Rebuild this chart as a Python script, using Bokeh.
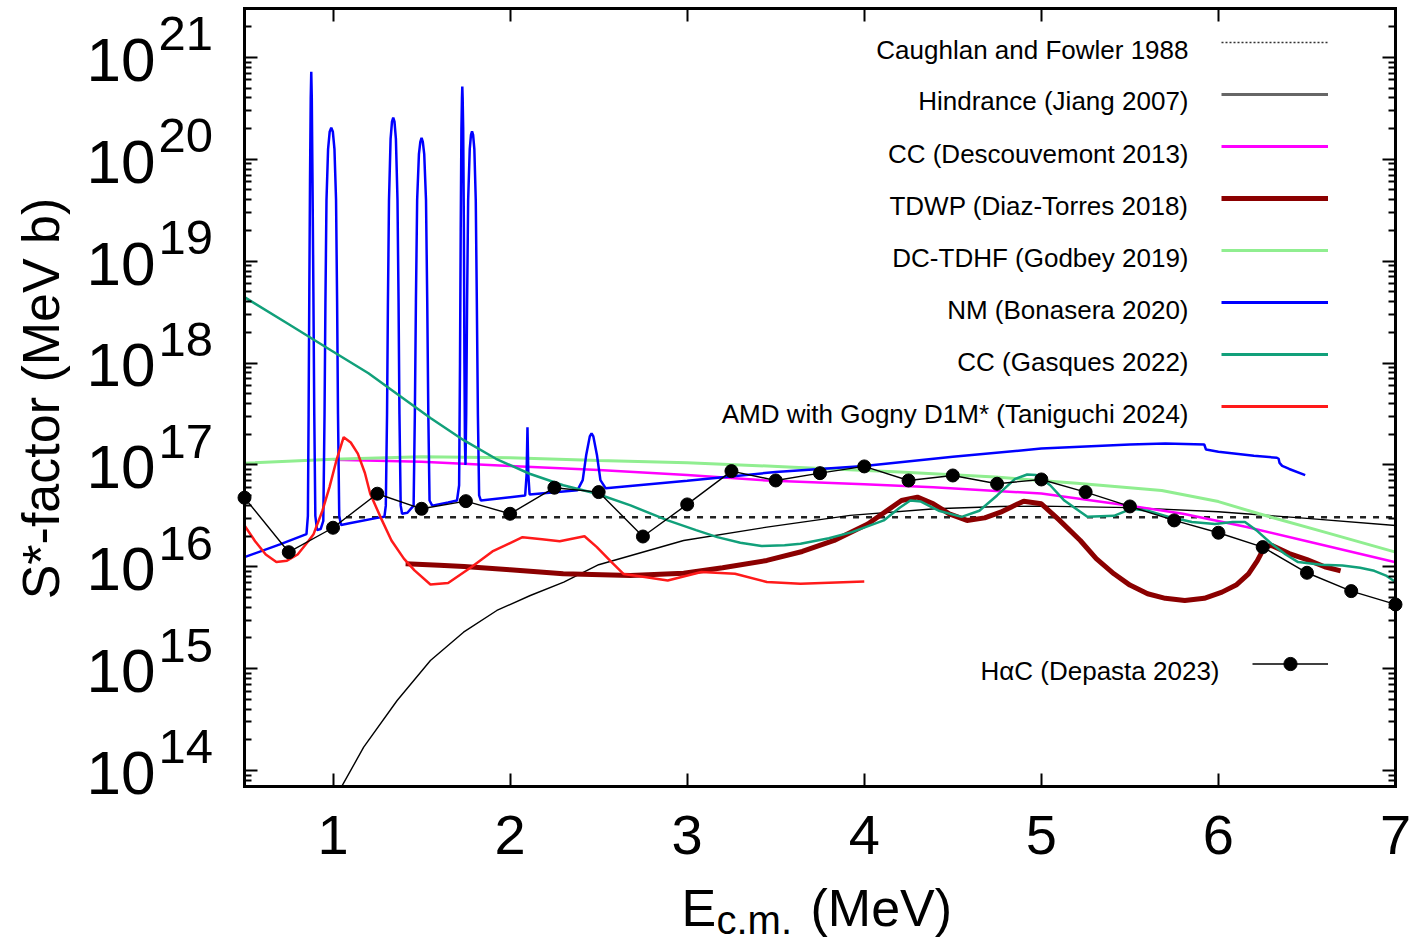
import math
from bokeh.plotting import figure
from bokeh.models import (Range1d, FixedTicker, LinearAxis, LogAxis, Label, Legend,
                          LegendItem, CustomJSTickFormatter)
from bokeh.embed import file_html
from bokeh.resources import INLINE
from bokeh.core.properties import value

# ---------------- data (y given as log10) -------------
cf_x = [1.0, 7.0]
cf_log = [16.487, 16.487]

hind_x = [1.05, 1.173, 1.362, 1.55, 1.737, 1.925, 2.114, 2.303, 2.50, 2.98, 3.45, 3.92,
          4.40, 4.77, 5.0, 5.5, 6.0, 6.5, 7.0]
hind_log = [13.846, 14.229, 14.687, 15.08, 15.358, 15.571, 15.718, 15.849, 16.02, 16.258,
            16.389, 16.504, 16.569, 16.592, 16.595, 16.58, 16.54, 16.475, 16.405]

desc_x = [1.0, 1.5, 2.0, 2.5, 3.0, 3.45, 4.0, 4.39, 4.77, 5.0, 5.5, 5.8, 6.16, 6.5, 7.0]
desc_log = [17.05, 17.03, 16.99, 16.95, 16.9, 16.847, 16.81, 16.78, 16.742, 16.72, 16.6,
            16.52, 16.39, 16.25, 16.045]

tdwp_x = [1.41, 1.6, 1.74, 2.0, 2.30, 2.68, 2.98, 3.2, 3.45, 3.65, 3.83, 4.02, 4.21, 4.30,
          4.39, 4.48, 4.58, 4.68, 4.77, 4.90, 5.0, 5.1, 5.22, 5.31, 5.41, 5.50, 5.60, 5.70,
          5.81, 5.92, 6.02, 6.10, 6.17, 6.22, 6.26, 6.30, 6.40, 6.50, 6.60, 6.69]
tdwp_log = [16.03, 16.015, 16.003, 15.97, 15.931, 15.915, 15.937, 15.99, 16.062, 16.15,
            16.258, 16.42, 16.65, 16.684, 16.618, 16.52, 16.455, 16.48, 16.536, 16.644,
            16.618, 16.46, 16.258, 16.08, 15.931, 15.82, 15.735, 15.69, 15.669, 15.69,
            15.751, 15.82, 15.931, 16.06, 16.193, 16.21, 16.13, 16.07, 16.0, 15.96]

dctdhf_x = [0.5, 1.0, 1.5, 2.0, 2.5, 3.0, 3.6, 4.2, 4.74, 5.2, 5.68, 6.0, 6.23, 6.6, 7.0]
dctdhf_log = [17.017, 17.055, 17.08, 17.07, 17.044, 17.02, 16.978, 16.93, 16.88, 16.82,
              16.749, 16.64, 16.52, 16.34, 16.144]

nm_x = [0.5, 0.7, 0.85,
        0.858, 0.862, 0.866, 0.870, 0.874, 0.877, 0.880, 0.884, 0.889, 0.894, 0.90, 0.91,
        0.93, 0.945, 0.952, 0.957, 0.963, 0.972, 0.981, 0.99, 0.999, 1.008, 1.017, 1.023,
        1.028, 1.035, 1.045, 1.1, 1.25, 1.29,
        1.298, 1.305, 1.310, 1.316, 1.325, 1.333, 1.34, 1.347, 1.355, 1.364, 1.370, 1.375,
        1.382, 1.39,
        1.42, 1.455, 1.462, 1.468, 1.475, 1.485, 1.493, 1.50, 1.507, 1.515, 1.525, 1.532,
        1.538, 1.545, 1.56, 1.65, 1.70,
        1.712, 1.717, 1.721, 1.725, 1.728, 1.73, 1.732, 1.735, 1.739, 1.742, 1.745, 1.748,
        1.752, 1.757, 1.763, 1.772, 1.779, 1.785, 1.791, 1.798, 1.806, 1.812, 1.818, 1.825,
        1.835,
        2.085, 2.093, 2.098, 2.103, 2.11,
        2.38, 2.41, 2.43, 2.45, 2.46, 2.47, 2.49, 2.51, 2.54,
        3.0, 3.5, 4.0, 4.5, 5.0, 5.5, 5.7, 5.92, 5.93, 6.0, 6.2, 6.33, 6.34, 6.345,
        6.36, 6.40, 6.49]
nm_log = [16.094, 16.22, 16.32,
          16.5, 17.5, 18.7, 19.8, 20.6, 20.86, 20.6, 19.8, 18.7, 17.5, 16.5, 16.36,
          16.37, 16.45, 17.5, 18.6, 19.6, 20.1, 20.27, 20.31, 20.27, 20.1, 19.6, 18.6,
          17.5, 16.5, 16.41, 16.43, 16.48, 16.49,
          16.6, 17.5, 18.6, 19.6, 20.2, 20.37, 20.41, 20.37, 20.2, 19.6, 18.6, 17.5,
          16.6, 16.52,
          16.53, 16.6, 17.5, 18.6, 19.6, 20.05, 20.17, 20.21, 20.17, 20.05, 19.6, 18.6,
          17.5, 16.65, 16.6, 16.63, 16.65,
          16.8, 18.0, 19.3, 20.3, 20.6, 20.715, 20.6, 20.3, 19.3, 18.0, 17.2, 17.0,
          17.5, 18.6, 19.6, 20.1, 20.24, 20.273, 20.24, 20.1, 19.6, 18.6, 17.5, 16.7,
          16.65,
          16.70, 16.9, 17.37, 16.9, 16.71,
          16.75, 16.85, 17.1, 17.28, 17.31, 17.28, 17.1, 16.85, 16.77,
          16.845, 16.93, 16.99, 17.08, 17.16, 17.2, 17.21, 17.20, 17.15, 17.13, 17.09,
          17.07, 17.06, 17.02, 16.99, 16.96, 16.90]

gas_x = [0.5, 0.75, 0.99, 1.2, 1.36, 1.55, 1.74, 1.92, 2.11, 2.3, 2.49, 2.68, 2.89, 3.05,
         3.17, 3.3, 3.42, 3.55, 3.64, 3.8, 3.93, 4.11, 4.2, 4.26, 4.32, 4.42, 4.55, 4.65,
         4.75, 4.85, 4.92, 4.97, 5.05, 5.13, 5.26, 5.41, 5.51, 5.6, 5.72, 5.85, 5.98, 6.08,
         6.15, 6.22, 6.30, 6.38, 6.45, 6.58, 6.70, 6.80, 6.88, 6.95, 7.0]
gas_log = [18.647, 18.38, 18.123, 17.9, 17.698, 17.46, 17.24, 17.06, 16.913, 16.8, 16.717,
           16.602, 16.455, 16.36, 16.291, 16.235, 16.203, 16.21, 16.226, 16.28, 16.34,
           16.455, 16.58, 16.65, 16.64, 16.55, 16.49, 16.55, 16.7, 16.86, 16.906, 16.9,
           16.8, 16.65, 16.49, 16.5, 16.57, 16.55, 16.49, 16.44, 16.42, 16.44, 16.44,
           16.35, 16.226, 16.12, 16.046, 16.02, 16.013, 15.99, 15.96, 15.91, 15.85]

amd_x = [0.5, 0.56, 0.62, 0.68, 0.74, 0.80, 0.86, 0.89, 0.94, 0.98, 1.02, 1.06, 1.10, 1.14,
         1.18, 1.21, 1.27, 1.33, 1.40, 1.46, 1.55, 1.65, 1.78, 1.90, 2.07, 2.18, 2.28, 2.42,
         2.49, 2.57, 2.64, 2.76, 2.89, 3.08, 3.27, 3.45, 3.64, 4.0]
amd_log = [16.405, 16.25, 16.12, 16.046, 16.06, 16.12, 16.25, 16.32, 16.55, 16.782, 17.05,
           17.272, 17.22, 17.11, 16.92, 16.717, 16.48, 16.258, 16.08, 15.964, 15.826, 15.84,
           15.996, 16.15, 16.29, 16.27, 16.25, 16.30, 16.193, 16.05, 15.93, 15.90, 15.866,
           15.948, 15.931, 15.85, 15.833, 15.856]

dep_x = [0.5, 0.75, 1.0, 1.25, 1.5, 1.75, 2.0, 2.25, 2.5, 2.75, 3.0, 3.25, 3.5, 3.75, 4.0,
         4.25, 4.5, 4.75, 5.0, 5.25, 5.5, 5.75, 6.0, 6.25, 6.5, 6.75, 7.0]
dep_log = [16.678, 16.143, 16.383, 16.717, 16.569, 16.644, 16.52, 16.776, 16.733, 16.297,
           16.612, 16.939, 16.847, 16.919, 16.985, 16.847, 16.896, 16.815, 16.857, 16.733,
           16.592, 16.455, 16.334, 16.193, 15.941, 15.761, 15.63]

legend_labels = ["Caughlan and Fowler 1988", "Hindrance (Jiang 2007)",
                 "CC (Descouvemont 2013)", "TDWP (Diaz-Torres 2018)",
                 "DC-TDHF (Godbey 2019)", "NM (Bonasera 2020)", "CC (Gasques 2022)",
                 "AMD with Gogny D1M* (Taniguchi 2024)"]
dep_label = "H\u03b1C (Depasta 2023)"
x_ticks = [1, 2, 3, 4, 5, 6, 7]
y_exps = [14, 15, 16, 17, 18, 19, 20, 21]


def lin(v):
    return [10 ** t for t in v]


# ---------------- layout: plot box in page pixels and in data units -------------------
W, H = 1416, 946
PX0, PX1, PY0, PY1 = 244, 1395, 8, 786          # box edges on the page
X0, X1 = 0.5, 7.0                                # box x limits (data)
LY0, LY1 = 13.843, 21.48                         # box y limits (log10 data)
SX = (PX1 - PX0) / (X1 - X0)
SY = (PY1 - PY0) / (LY1 - LY0)
XS, XE = X0 - PX0 / SX, X1 + (W - PX1) / SX
YS, YE = LY0 - (H - PY1) / SY, LY1 + PY0 / SY
FONT = "Liberation Sans"
K = 0.38   # baseline correction of Label text (fraction of font size)

p = figure(width=W, height=H, y_axis_type="log", x_axis_location=None,
           y_axis_location=None, x_range=Range1d(XS, XE),
           y_range=Range1d(10 ** YS, 10 ** YE), min_border=0,
           output_backend="svg", toolbar_location=None)
p.grid.visible = False
p.outline_line_color = None
p.background_fill_color = "white"
p.border_fill_color = "white"

empty = CustomJSTickFormatter(code="return ''")
ymin = [k * 10 ** e for e in range(13, 22) for k in range(2, 10)
        if LY0 + 0.01 < math.log10(k * 10 ** e) < LY1 - 0.01]
yt = FixedTicker(ticks=[10 ** e for e in y_exps], minor_ticks=ymin)
xt = FixedTicker(ticks=x_ticks, minor_ticks=[])

bottom = LinearAxis(ticker=xt, fixed_location=10 ** LY0)
bottom.major_label_text_font = FONT
bottom.major_label_text_font_size = "56px"
bottom.major_label_text_color = "black"
bottom.major_label_standoff = 29
top = LinearAxis(ticker=xt, formatter=empty, fixed_location=10 ** LY1)
left = LogAxis(ticker=yt, formatter=empty, fixed_location=X0)
right = LogAxis(ticker=yt, formatter=empty, fixed_location=X1)
p.add_layout(bottom, "below")
p.add_layout(top, "above")
p.add_layout(left, "left")
p.add_layout(right, "right")
for ax in [bottom, top, left, right]:
    ax.axis_line_color = None
    ax.major_tick_in = 13
    ax.major_tick_out = 0
    ax.minor_tick_in = 7
    ax.minor_tick_out = 0
    ax.major_tick_line_width = 2
    ax.minor_tick_line_width = 2
    ax.major_tick_line_color = "black"
    ax.minor_tick_line_color = "black"

# ---------------- curves ---------------------------------------------------------------
p.line(cf_x, lin(cf_log), line_color="#222222", line_width=2.5, line_dash="6 7")
p.line(hind_x, lin(hind_log), line_color="black", line_width=1.4)
p.line(desc_x, lin(desc_log), line_color="#ff00ff", line_width=2.5)
p.line(tdwp_x, lin(tdwp_log), line_color="#8b0000", line_width=5)
p.line(dctdhf_x, lin(dctdhf_log), line_color="#90ee90", line_width=3)
p.line(nm_x, lin(nm_log), line_color="#0000ff", line_width=2.5)
p.line(gas_x, lin(gas_log), line_color="#11a07a", line_width=2.5)
p.line(amd_x, lin(amd_log), line_color="#ff1a1a", line_width=2.5)
p.line(dep_x, lin(dep_log), line_color="black", line_width=1.4)
p.scatter(dep_x, lin(dep_log), size=13, fill_color="black", line_color="black")

# plot border box
p.quad(left=[X0], right=[X1], bottom=[10 ** LY0], top=[10 ** LY1], fill_color=None,
       line_color="black", line_width=3, line_join="miter")

# ---------------- legend samples (placeholder renderers without visible points) -------
styles = [dict(line_color="#333333", line_width=1.5, line_dash="2 2"),
          dict(line_color="#666666", line_width=3),
          dict(line_color="#ff00ff", line_width=3),
          dict(line_color="#8b0000", line_width=5),
          dict(line_color="#90ee90", line_width=3),
          dict(line_color="#0000ff", line_width=3),
          dict(line_color="#11a07a", line_width=3),
          dict(line_color="#ff1a1a", line_width=3)]
items = []
for st in styles:
    r = p.line([math.nan], [math.nan], **st)
    items.append(LegendItem(label=value(" "), renderers=[r]))
leg = Legend(items=items, location=(1221, H - 416), glyph_width=107, glyph_height=20,
             label_width=0, label_standoff=0, label_height=20, spacing=32, padding=0,
             margin=0, border_line_alpha=0, background_fill_alpha=0,
             label_text_font_size="8px")
p.add_layout(leg, "center")

rl = p.line([math.nan], [math.nan], line_color="black", line_width=1.5)
rs = p.scatter([math.nan], [math.nan], size=13, fill_color="black", line_color="black")
leg2 = Legend(items=[LegendItem(label=value(" "), renderers=[rl, rs])],
              location=(1252, H - 680), glyph_width=76, glyph_height=33, label_width=0,
              label_standoff=0, label_height=20, padding=0, margin=0,
              border_line_alpha=0, background_fill_alpha=0, label_text_font_size="8px")
p.add_layout(leg2, "center")


def page_label(x, base_y, text, fs, align="left", **kw):
    p.add_layout(Label(x=x, y=H - base_y + K * fs, x_units="screen", y_units="screen",
                       text=text, text_align=align, text_baseline="alphabetic",
                       text_font=FONT, text_font_size=f"{fs}px", text_color="black", **kw))


line_ys = [42, 93, 146, 198, 250, 302, 354, 406]
for lab, ly in zip(legend_labels, line_ys):
    page_label(1188, ly + 17, lab, 26, align="right")
page_label(1219, 680, dep_label, 26, align="right")

# ---------------- y tick labels 10^n ---------------------------------------------------
for e in y_exps:
    p.add_layout(Label(x=155, y=10 ** e, x_units="screen", y_units="data", text="10",
                       text_align="right", text_baseline="alphabetic",
                       y_offset=-26 + K * 62,
                       text_font=FONT, text_font_size="62px", text_color="black"))
    p.add_layout(Label(x=158, y=10 ** e, x_units="screen", y_units="data", text=str(e),
                       text_align="left", text_baseline="alphabetic",
                       y_offset=5 + K * 49,
                       text_font=FONT, text_font_size="49px", text_color="black"))

# ---------------- axis titles ----------------------------------------------------------
page_label(681, 927, "E", 52)
page_label(716, 935, "c.m.", 40)
page_label(810, 927, "(MeV)", 52)
p.add_layout(Label(x=40, y=H - 398, x_units="screen", y_units="screen",
                   text="S*-factor (MeV b)", angle=math.pi / 2, text_align="center",
                   text_baseline="middle", text_font=FONT, text_font_size="52px",
                   text_color="black"))

open("out.html", "w").write(file_html(p, INLINE))
